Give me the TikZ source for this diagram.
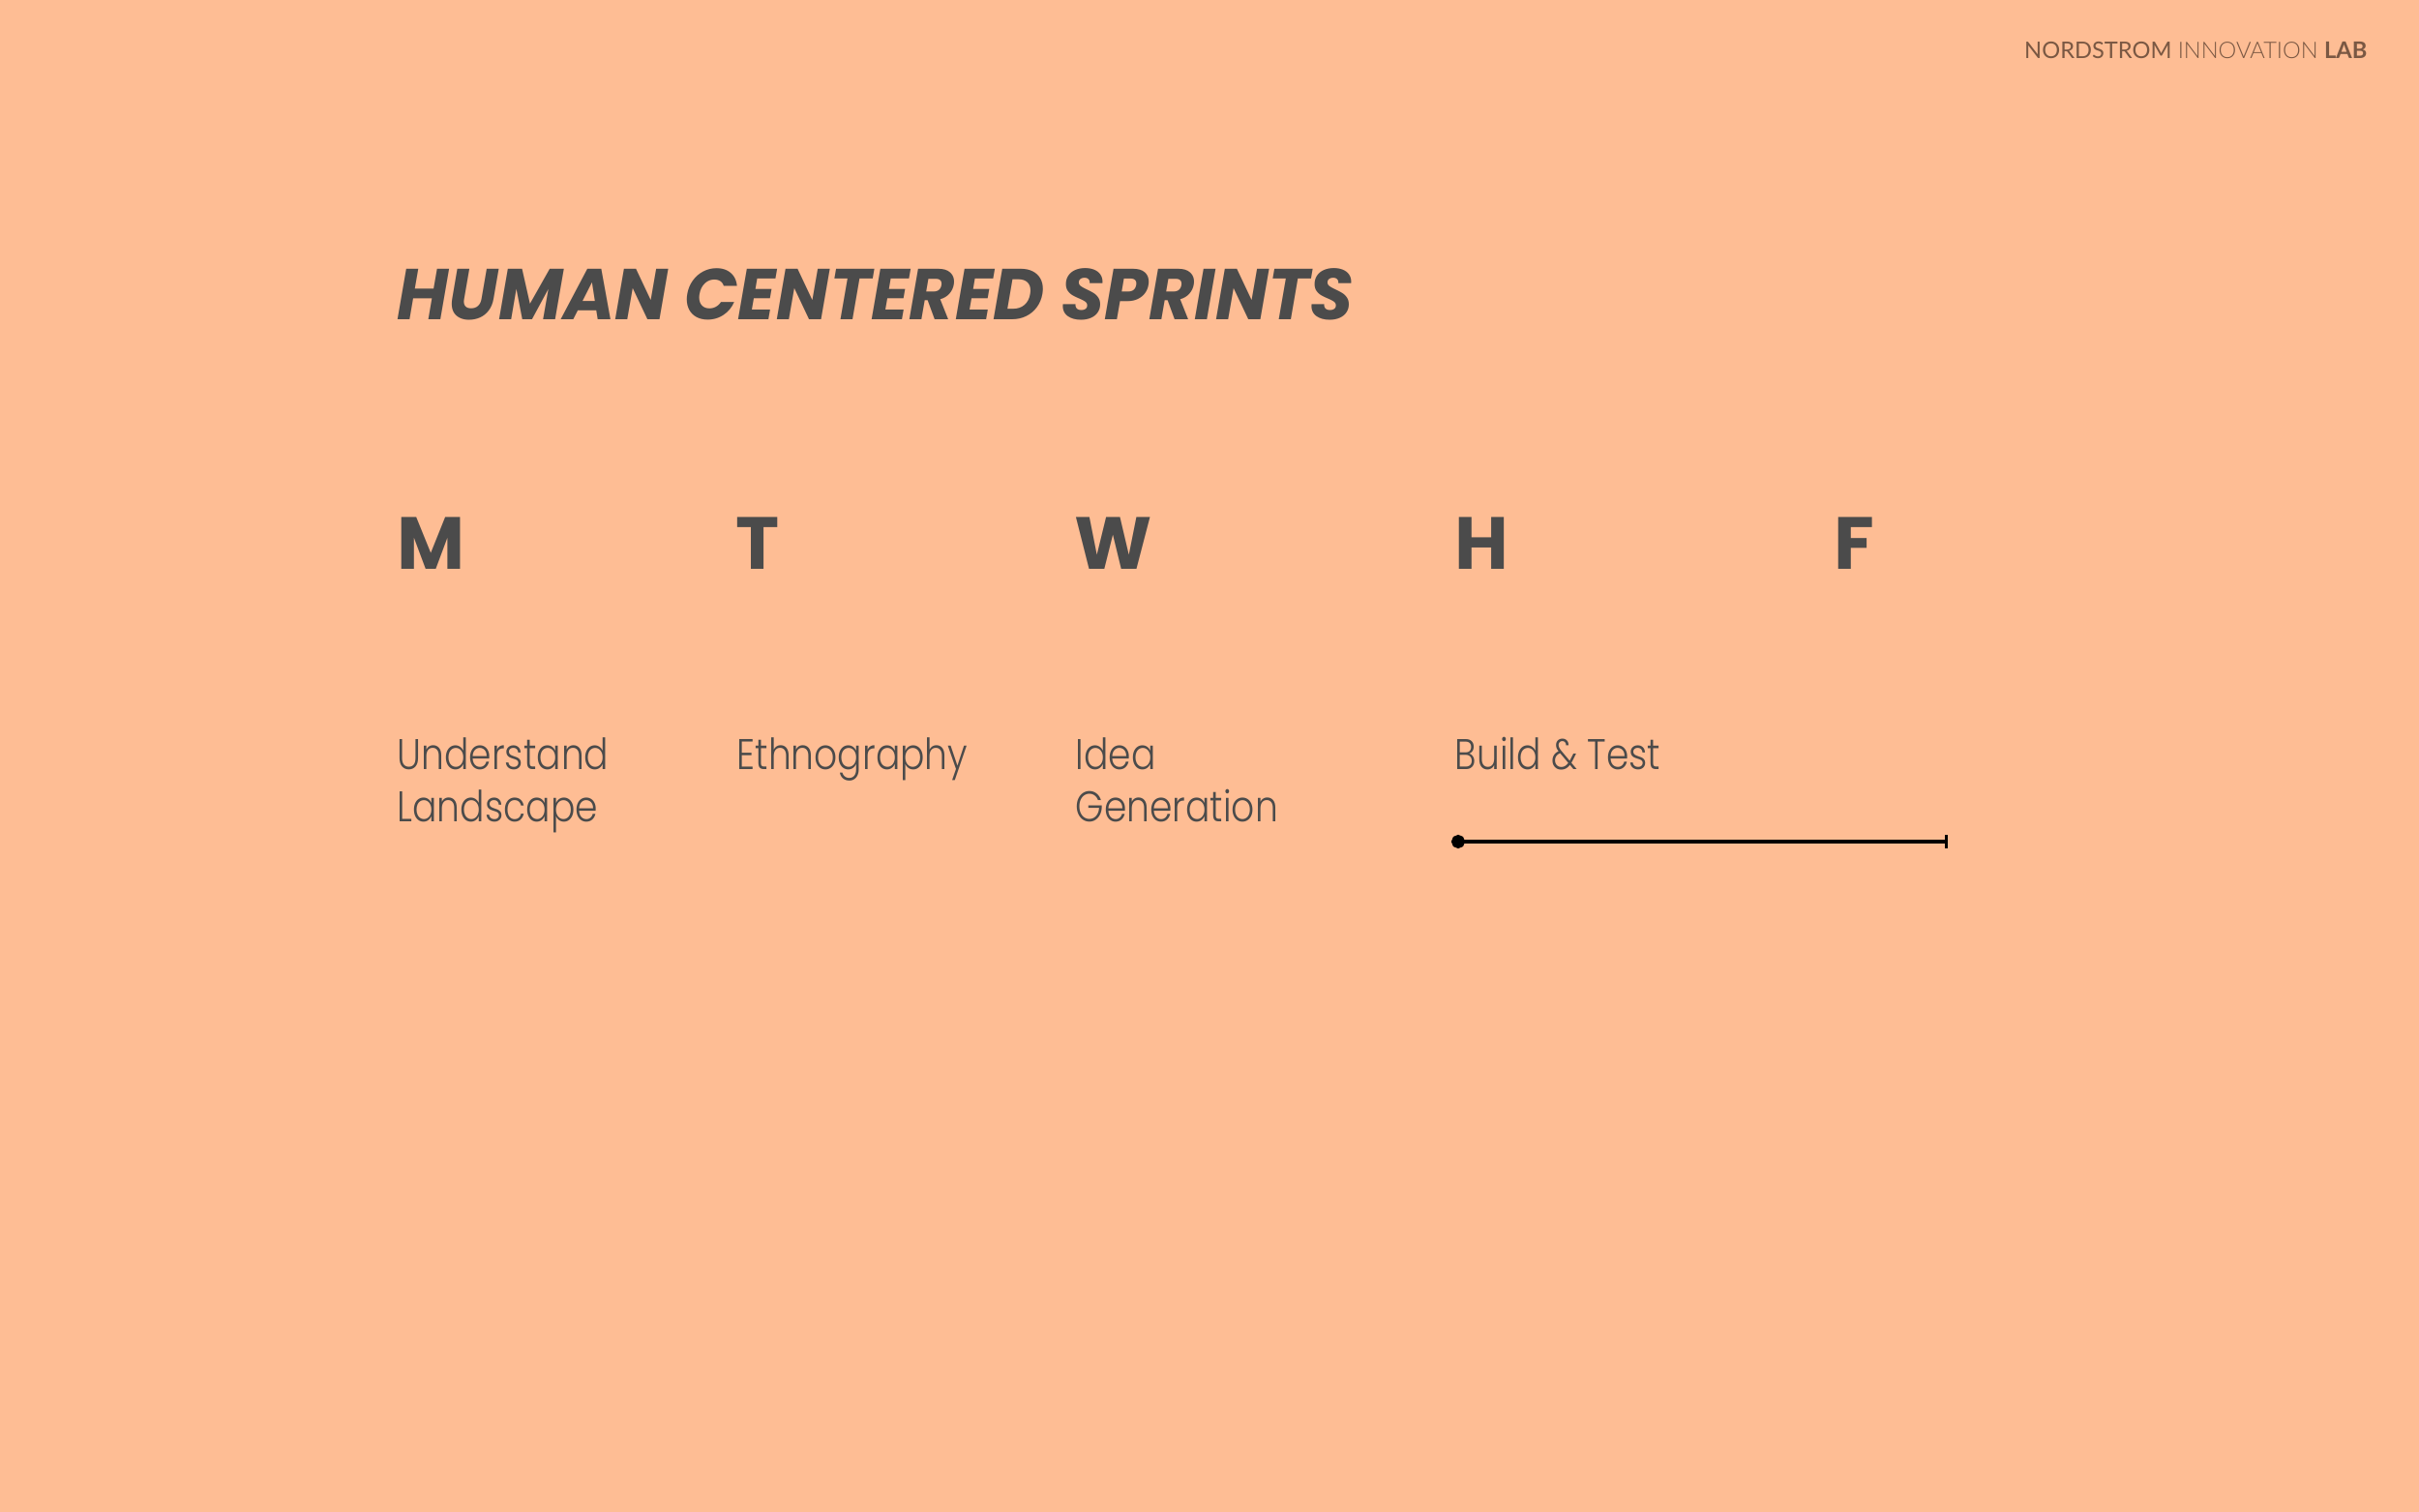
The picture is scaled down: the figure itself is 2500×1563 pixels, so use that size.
\documentclass[tikz,border=0pt]{standalone}
\usepackage{fontspec}
\setmainfont{Poppins}
\newfontfamily\titlefont{Poppins}[FakeStretch=0.98]
\newfontfamily\labelfont{Poppins Light}[FakeStretch=0.85]
\newfontfamily\headfont{Lato}
\newfontfamily\headlightfont{Lato Light}
\usetikzlibrary{arrows.meta,positioning}
\definecolor{peach}{HTML}{FEBD94}
\definecolor{ink}{HTML}{4B4B4B}
\definecolor{brand}{HTML}{7A5843}

\begin{document}
\begin{tikzpicture}[x=0.3pt,y=-0.3pt,
    day/.style={anchor=base west,inner sep=0pt,text=ink,
      font=\fontsize{22.9}{24}\selectfont\bfseries},
    task/.style={anchor=base west,inner sep=0pt,align=left,text=ink,
      font=\labelfont\fontsize{13.3}{16.2}\selectfont}]
  \fill[peach] (0,0) rectangle (2500,1563);
  \useasboundingbox (0,0) rectangle (2500,1563);

  % header
  \node[anchor=base east,inner sep=0pt,text=brand,font=\fontsize{7.1}{8}\selectfont]
    (lab) at (2447,61) {{\headfont NORDSTROM} {\headlightfont INNOVATION} {\headfont\bfseries LAB}};

  \node[anchor=base west,inner sep=0pt,text=ink,
    font=\titlefont\fontsize{22.3}{24}\selectfont\bfseries\itshape] (title) at (410,331)
    {HUMAN CENTERED SPRINTS};

  % days
  \node[day] (mon) at (410,589) {M};
  \node[day] (tue) at (760,589) {T};
  \node[day] (wed) at (1110,589) {W};
  \node[day] (thu) at (1503,589) {H};
  \node[day] (fri) at (1895,589) {F};

  % tasks (base = last line)
  \node[task] (landscape) at (410,850) {Understand\\Landscape};
  \node[task] (ethno) at (761,796) {Ethnography};
  \node[task] (idea) at (1111,850) {Idea\\Generation};
  \node[task] (build) at (1503,796) {Build \& Test};

  \coordinate (bstart) at (1500,870);
  \coordinate (bend) at (2013,870);
  \draw[line width=1pt,{Circle[length=4.2pt]}-{Bar[width=4pt]}] (bstart) -- (bend);
\end{tikzpicture}
\end{document}
